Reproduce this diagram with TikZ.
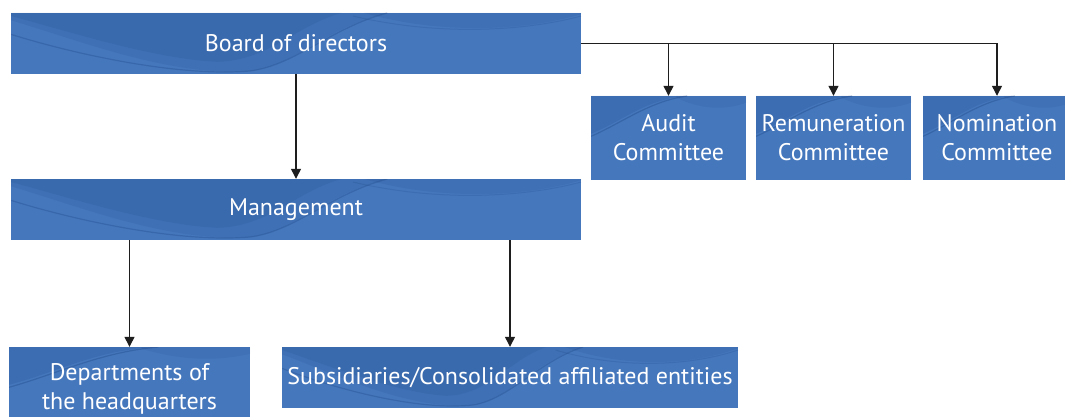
\documentclass[tikz,border=0pt]{standalone}
\usepackage{fontspec}
\setmainfont{PT Sans}
\usetikzlibrary{arrows.meta}

\definecolor{boxblue}{RGB}{69,119,189}
\definecolor{wavedark}{RGB}{28,68,130}
\definecolor{linegray}{RGB}{30,30,30}

% Swoosh artwork in unit-box coordinates (origin top left, y downward)
\newcommand\wavewide{%
  \fill[wavedark, opacity=0.13] (0,0.12) .. controls (0.12,0.45) and (0.28,1.05) .. (0.42,0.95)
      .. controls (0.5,0.85) and (0.55,0.25) .. (0.66,0) -- (0,0) -- cycle;
  \fill[wavedark, opacity=0.13] (0,0.05) .. controls (0.1,0.3) and (0.25,0.75) .. (0.36,0.8)
      .. controls (0.45,0.8) and (0.5,0.2) .. (0.58,0) -- (0,0) -- cycle;
  \draw[wavedark, opacity=0.30, line width=1.2pt] (0,0.35) .. controls (0.12,0.7) and (0.3,1.05) .. (0.42,0.95)
      .. controls (0.5,0.85) and (0.56,0.25) .. (0.66,0);
  \fill[wavedark, opacity=0.14] (0.62,0) .. controls (0.75,0.35) and (0.9,0.3) .. (1,0.02) -- (1,0) -- cycle;
  \draw[wavedark, opacity=0.20, line width=1pt] (0.6,0.05) .. controls (0.75,0.38) and (0.9,0.3) .. (1,0.05);
}
\newcommand\wavetall{%
  \fill[wavedark, opacity=0.20] (0,0.45) .. controls (0.2,0.3) and (0.35,0.05) .. (0.6,0) -- (0,0) -- cycle;
  \draw[wavedark, opacity=0.35, line width=1.2pt] (0,0.48) .. controls (0.2,0.32) and (0.38,0.06) .. (0.62,0);
  \fill[wavedark, opacity=0.12] (0.55,0.02) .. controls (0.7,0.15) and (0.85,0.18) .. (1,0.08) -- (1,0) -- (0.55,0) -- cycle;
}

% #1 name, #2 left, #3 top, #4 width, #5 height, #6 wave kind, #7 label
\newcommand\orgunit[7]{%
  \begin{scope}[shift={(#2,#3)}, xscale=#4, yscale=#5]
    \fill[boxblue] (0,0) rectangle (1,1);
    \begin{scope}
      \clip (0,0) rectangle (1,1);
      \csname wave#6\endcsname
    \end{scope}
  \end{scope}
  \node[orgbox, minimum width=#4pt, minimum height=#5pt] (#1) at ({#2+#4/2},{#3+#5/2}) {#7};%
}

\tikzset{
  orgbox/.style={rectangle, text=white, inner sep=0pt,
    align=center, font=\fontsize{24}{29}\selectfont},
  arr/.style={draw=linegray, line width=1.3pt,
    -{Triangle[length=10pt,width=10pt]}}
}

\begin{document}
\begin{tikzpicture}[x=1pt, y=-1pt]
  \useasboundingbox[fill=white] (0,0) rectangle (1065,417);

  % governance row
  \orgunit{board}{11}{13}{570}{61}{wide}{Board of directors}
  \orgunit{audit}{591}{96}{155}{84}{tall}{Audit\\Committee}
  \orgunit{remun}{756}{96}{155}{84}{tall}{Remuneration\\Committee}
  \orgunit{nomin}{923}{96}{148}{84}{tall}{Nomination\\Committee}

  % executive row
  \orgunit{mgmt}{11}{179}{570}{61}{wide}{Management}

  % operating units
  \orgunit{dept}{9}{347}{241}{84}{tall}{Departments of\\the headquarters}
  \orgunit{subs}{282}{347}{456}{61}{wide}{Subsidiaries/Consolidated affiliated entities}

  % connectors
  \draw[arr] (board.south) -- (mgmt.north);
  \draw[arr] (board.east) -| (nomin.north);
  \draw[arr] (board.east -| audit.north) -- (audit.north);
  \draw[arr] (board.east -| remun.north) -- (remun.north);
  \draw[arr] (mgmt.south -| dept.north) -- (dept.north);
  \draw[arr] (mgmt.south -| subs.north) -- (subs.north);
\end{tikzpicture}
\end{document}
